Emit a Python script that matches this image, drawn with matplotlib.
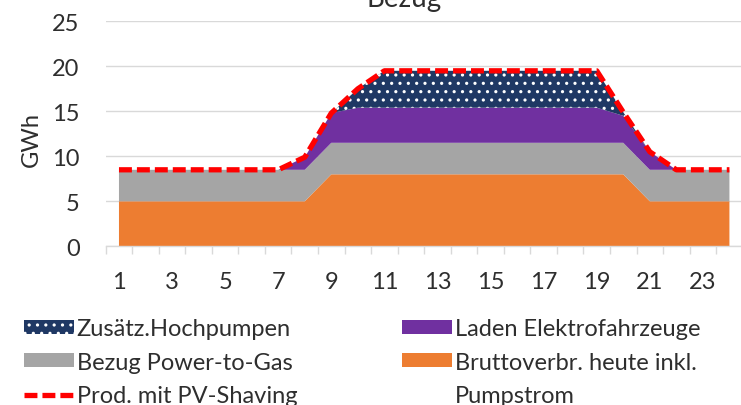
import matplotlib
matplotlib.use("Agg")
import matplotlib.pyplot as plt
import matplotlib.patches as mpatches
from matplotlib.ticker import FixedLocator, NullFormatter

plt.rcParams['font.family'] = ['Lato', 'DejaVu Sans']
plt.rcParams['hatch.color'] = 'white'
plt.rcParams['hatch.linewidth'] = 1.1

# ---- data ----
hours = list(range(1, 25))
brutto = [5]*8 + [8]*12 + [5]*4
p2g = [3.5]*24
ev = [0]*7 + [1.4, 3.3] + [3.9]*10 + [3.0, 2.0] + [0]*3
hoch = [0]*9 + [2.1] + [4.1]*9 + [0.4] + [0]*4
prod = [8.5]*7 + [9.9, 14.8, 17.5] + [19.5]*9 + [14.9, 10.5] + [8.5]*3
xticklabels = [str(h) if h % 2 == 1 else '' for h in hours]
yticks = [0, 5, 10, 15, 20, 25]

labels = ['Bruttoverbr. heute inkl.', 'Bezug Power-to-Gas',
          'Laden Elektrofahrzeuge', 'Zusätz.Hochpumpen']
prod_label = 'Prod. mit PV-Shaving'
colors = ['#ED7D31', '#A5A5A5', '#7030A0', '#1F3864']
txt = '#2E2E2E'
grid = '#D9D9D9'
FS = 17

W, H = 741, 406
fig = plt.figure(figsize=(W/100, H/100), dpi=100)
ax = fig.add_axes([105.7/W, (H-247.3)/H, 637/W, 225/H])

polys = ax.stackplot(hours, brutto, p2g, ev, hoch, colors=colors, labels=labels,
                     linewidth=0)
polys[3].set_hatch('..')
polys[3].set_edgecolor('white')
polys[3].set_linewidth(0)
line, = ax.plot(hours, prod, color='#FF0000', lw=3.8, dashes=(2.45, 0.95),
                label=prod_label, zorder=5)

ax.set_xlim(0.5, 24.5)
ax.set_ylim(0, 25)
ax.set_yticks(yticks)
ax.yaxis.grid(True, color=grid, lw=1.0)
ax.set_axisbelow(True)
for s in ['left', 'right', 'top']:
    ax.spines[s].set_visible(False)
ax.spines['bottom'].set_color(grid)
ax.spines['bottom'].set_linewidth(1.0)

ax.set_xticks(hours)
ax.set_xticklabels(xticklabels)
ax.xaxis.set_minor_locator(FixedLocator([h - 0.5 for h in hours] + [24.5]))
ax.xaxis.set_minor_formatter(NullFormatter())
ax.tick_params(axis='x', which='major', length=0, pad=18.0, labelsize=FS, labelcolor=txt)
ax.tick_params(axis='x', which='minor', length=5.8, color=grid, width=1.0)
ax.tick_params(axis='y', length=0, pad=18.7, labelsize=FS, labelcolor=txt)

ax.set_ylabel('GWh', fontsize=FS, color=txt)
ax.yaxis.set_label_coords((41.5-105.7)/637, 0.477)

fig.text(404/W, 1 - 7/H, 'Bezug', ha='center', va='baseline', fontsize=20, color=txt)

# legends
blank = mpatches.Patch(facecolor='none', edgecolor='none', label='Pumpstrom')
common = dict(frameon=False, fontsize=FS, labelcolor=txt, borderpad=0, borderaxespad=0,
              handlelength=2.1, handleheight=0.52, handletextpad=0.13,
              labelspacing=0.54, loc='upper left')
leg1 = fig.legend([polys[3], polys[1], line],
                  [labels[3], labels[1], prod_label],
                  bbox_to_anchor=(24/W, (H-319)/H), **common)
leg2 = fig.legend([polys[2], polys[0], blank],
                  [labels[2], labels[0], 'Pumpstrom'],
                  bbox_to_anchor=(402/W, (H-319)/H), **common)
leg1.get_lines()[0].set_dashes((2.45, 0.95))

fig.savefig('out.png', dpi=100)
